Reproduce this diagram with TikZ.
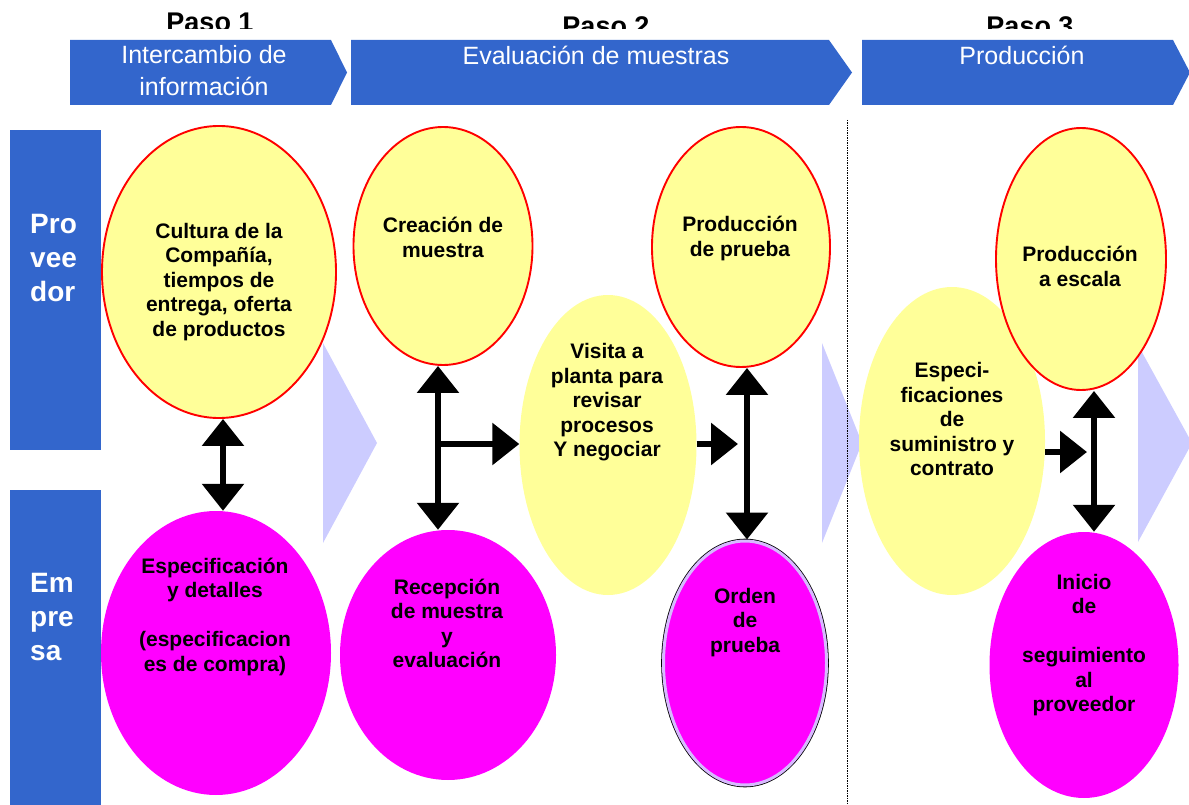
\documentclass[tikz,border=0pt]{standalone}
\usepackage{fontspec}
\setmainfont{Liberation Sans}
\usetikzlibrary{shapes.geometric,arrows.meta}
\definecolor{stepblue}{RGB}{51,102,204}
\definecolor{ovalyellow}{RGB}{255,255,153}
\definecolor{ovalpink}{RGB}{255,0,255}
\definecolor{lavender}{RGB}{204,204,255}
\definecolor{rimlilac}{RGB}{215,185,255}
\tikzset{
    yellow-oval/.style = {ellipse, fill=ovalyellow, inner sep=0pt},
    pink-oval/.style = {ellipse, fill=ovalpink, inner sep=0pt},
    red-rim/.style = {draw=red, line width=1.9pt},
    lilac-rim/.style = {draw=rimlilac, line width=3pt, preaction={draw=black, line width=4.6pt}},
    oval-text/.style = {align=center, inner sep=0pt, font=\fontsize{21}{24.5}\selectfont\bfseries},
    step-label/.style = {inner sep=0pt, font=\fontsize{27}{30}\selectfont\bfseries},
    head-text/.style = {align=center, text=white, inner sep=0pt, font=\fontsize{25}{32}\selectfont},
    side-text/.style = {align=left, text=white, inner sep=0pt, font=\fontsize{28}{34}\selectfont\bfseries},
    big-arrow/.style = {line width=6pt, -{Triangle[length=27pt,width=41pt]}},
    big-both/.style = {line width=6pt, {Triangle[length=27pt,width=41pt]}-{Triangle[length=27pt,width=41pt]}},
}

\begin{document}
\begin{tikzpicture}[x=1pt,y=-1pt]
\useasboundingbox (0,0) rectangle (1189,805);

% step titles, cut off above the bars
\begin{scope}
\clip (0,0) rectangle (1189,29);
\node[step-label, anchor=base] (paso1) at (210,32) {Paso 1};
\node[step-label, anchor=base] (paso2) at (606,35.5) {Paso 2};
\node[step-label, anchor=base] (paso3) at (1030,35.5) {Paso 3};
\end{scope}

% header bars
\fill[stepblue] (70,40) -- (331,40) -- (347,72.5) -- (331,105) -- (70,105) -- cycle;
\fill[stepblue] (351,40) -- (829,40) -- (852,72.5) -- (829,105) -- (351,105) -- cycle;
\fill[stepblue] (862,40) -- (1173,40) -- (1190,72.5) -- (1173,105) -- (862,105) -- cycle;
\node[head-text] (info) at (204,71) {Intercambio de\\información};
\node[head-text] (evalua) at (596,55) {Evaluación de muestras};
\node[head-text] (produc) at (1022,55) {Producción};

% side bars
\fill[stepblue] (10,130) rectangle (101,450);
\fill[stepblue] (10,490) rectangle (101,805);
\node[side-text, anchor=west] (prov) at (30,258.5) {Pro\\vee\\dor};
\node[side-text, anchor=west] (empr) at (30,617) {Em\\pre\\sa};

% light chevrons behind
\fill[lavender] (323,343) -- (377,443) -- (323,543) -- cycle;
\fill[lavender] (822,343) -- (862,443) -- (822,543) -- cycle;
\fill[lavender] (1138,345) -- (1192,443) -- (1138,542) -- cycle;
\draw[line width=0.8pt, dash pattern=on 1.5pt off 1pt] (847,120) -- (847,805);

% ovals
\node[yellow-oval, red-rim, minimum width=234pt, minimum height=292pt] (cultura) at (219,272) {};
\node[pink-oval, minimum width=230pt, minimum height=284pt] (espec) at (216,653) {};
\node[yellow-oval, red-rim, minimum width=179pt, minimum height=238pt] (creacion) at (443,246) {};
\node[pink-oval, minimum width=216pt, minimum height=250pt] (recepcion) at (448,655) {};
\node[yellow-oval, minimum width=177pt, minimum height=300pt] (visita) at (608,445) {};
\node[yellow-oval, red-rim, minimum width=178pt, minimum height=240pt] (prueba) at (741,247) {};
\node[pink-oval, lilac-rim, minimum width=163pt, minimum height=244pt] (orden) at (745,663) {};
\node[yellow-oval, minimum width=186pt, minimum height=308pt] (suministro) at (952,441) {};
\node[yellow-oval, red-rim, minimum width=170pt, minimum height=262pt] (escala) at (1081,259) {};
\node[pink-oval, minimum width=189pt, minimum height=266pt] (inicio) at (1084,665) {};

% oval texts
\node[oval-text] (cultura-t) at (219,282) {Cultura de la\\Compañía,\\tiempos de\\entrega, oferta\\de productos};
\node[oval-text] (espec-t) at (215,616.5) {Especificación\\y detalles\\[24.5pt](especificacion\\es de compra)};
\node[oval-text] (creacion-t) at (443,237.5) {Creación de\\muestra};
\node[oval-text] (recepcion-t) at (447,623.5) {Recepción\\de muestra\\y\\evaluación};
\node[oval-text] (visita-t) at (607,402.5) {Visita a\\planta para\\revisar\\procesos\\Y negociar};
\node[oval-text] (prueba-t) at (740,238.5) {Producción\\de prueba};
\node[oval-text] (orden-t) at (745,622.5) {Orden\\de\\prueba};
\node[oval-text] (suministro-t) at (952,419) {Especi-\\ficaciones\\de\\suministro y\\contrato};
\node[oval-text] (escala-t) at (1080,266.5) {Producción\\a escala};
\node[oval-text] (inicio-t) at (1084,645) {Inicio\\de\\[24.5pt]seguimiento\\al\\proveedor};

% links
\coordinate (swap) at (223,460);
\draw[big-both] (swap |- cultura.south) -- (swap |- espec.north);

\coordinate (fork) at (438,444);
\draw[big-both] (fork |- creacion.south) -- (fork |- recepcion.north);
\draw[big-arrow] (fork) -- (fork -| visita.west);

\coordinate (trial) at (747,444);
\coordinate (trial-in) at (738,444);
\draw[big-arrow] (visita.east |- trial-in) -- (trial-in);
\draw[big-both] (trial |- prueba.south) -- (trial |- orden.north);

\coordinate (run) at (1094,452);
\coordinate (run-in) at (1087,452);
\draw[big-arrow] (suministro.east |- run-in) -- (run-in);
\draw[big-both] (run |- escala.south) -- (run |- inicio.north);
\end{tikzpicture}
\end{document}
